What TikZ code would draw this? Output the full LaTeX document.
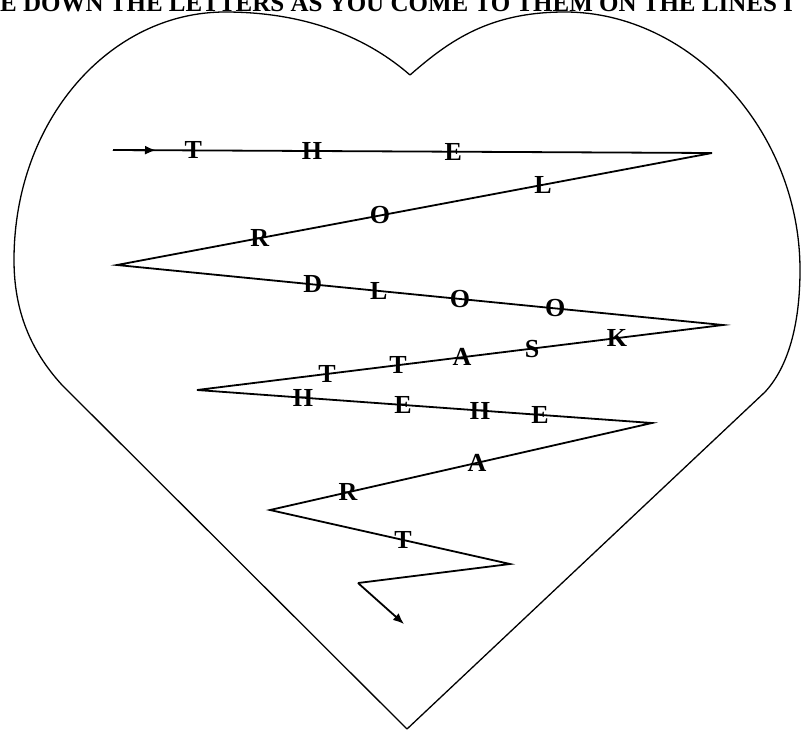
\documentclass[tikz,border=0pt]{standalone}
\usepackage{fontspec}
\setmainfont{Liberation Serif}
\usetikzlibrary{arrows.meta}
\begin{document}
\begin{tikzpicture}[x=1pt,y=-1pt,
  heart/.style={line width=1.3pt, line join=round},
  zig/.style={line width=1.8pt, line join=miter},
  letter/.style={font=\fontsize{26}{26}\selectfont\bfseries, inner sep=0pt},
  tipline/.style={line width=1.8pt, -{Latex[length=11pt,width=9pt]}}
]
\useasboundingbox (0,0) rectangle (801,731);
\clip (0,0) rectangle (801,731);
\node[anchor=base west, inner sep=0pt, font=\fontsize{25}{25}\selectfont\bfseries] (title) at (0,11) {E DOWN THE LETTERS AS YOU COME TO THEM ON THE LINES I};
% heart
\coordinate (hb) at (407,729);
\coordinate (hl) at (62,385);
\coordinate (hr) at (765,392);
\coordinate (hd) at (410,75);
\draw[heart] (hb) -- (hl) .. controls (30,350) and (14,310) .. (14,260)
  .. controls (14,120) and (110,12) .. (225,12)
  .. controls (310,12) and (370,40) .. (hd)
  .. controls (450,40) and (490,12) .. (565,12)
  .. controls (690,12) and (800,130) .. (800,270)
  .. controls (800,320) and (790,365) .. (hr) -- cycle;
% zigzag
\coordinate (p0) at (113,150);
\coordinate (a0) at (156,150.2);
\coordinate (p1) at (712,153);
\coordinate (p2) at (117,265);
\coordinate (p3) at (723,325);
\coordinate (p4) at (197,390);
\coordinate (p5) at (652,423);
\coordinate (p6) at (270,510);
\coordinate (p7) at (510,564);
\coordinate (p8) at (358,583);
\coordinate (p9) at (404,624);
\draw[zig] (p0) -- (p1) -- (p2) -- (p3) -- (p4) -- (p5) -- (p6) -- (p7) -- (p8);
\draw[tipline] (p0) -- (a0);
\draw[tipline] (p8) -- (p9);
% letters
\path (p0) -- (p1)
  node[letter,pos=0.134] (l1) {T}
  node[letter,pos=0.332] (l2) {H}
  node[letter,pos=0.568] (l3) {E};
\path (p1) -- (p2)
  node[letter,pos=0.284] (l4) {L}
  node[letter,pos=0.558] (l5) {O}
  node[letter,pos=0.760] (l6) {R};
\path (p2) -- (p3)
  node[letter,pos=0.323] (l7) {D}
  node[letter,pos=0.432] (l8) {L}
  node[letter,pos=0.566] (l9) {O}
  node[letter,pos=0.723] (l10) {O};
\path (p3) -- (p4)
  node[letter,pos=0.2015] (l11) {K}
  node[letter,pos=0.363] (l12) {S}
  node[letter,pos=0.496] (l13) {A}
  node[letter,pos=0.618] (l14) {T}
  node[letter,pos=0.753] (l15) {T};
\path (p4) -- (p5)
  node[letter,pos=0.233] (l16) {H}
  node[letter,pos=0.453] (l17) {E}
  node[letter,pos=0.622] (l18) {H}
  node[letter,pos=0.754] (l19) {E};
\path (p5) -- (p6)
  node[letter,pos=0.458] (l20) {A}
  node[letter,pos=0.796] (l21) {R};
\path (p6) -- (p7)
  node[letter,pos=0.554] (l22) {T};
\end{tikzpicture}
\end{document}
